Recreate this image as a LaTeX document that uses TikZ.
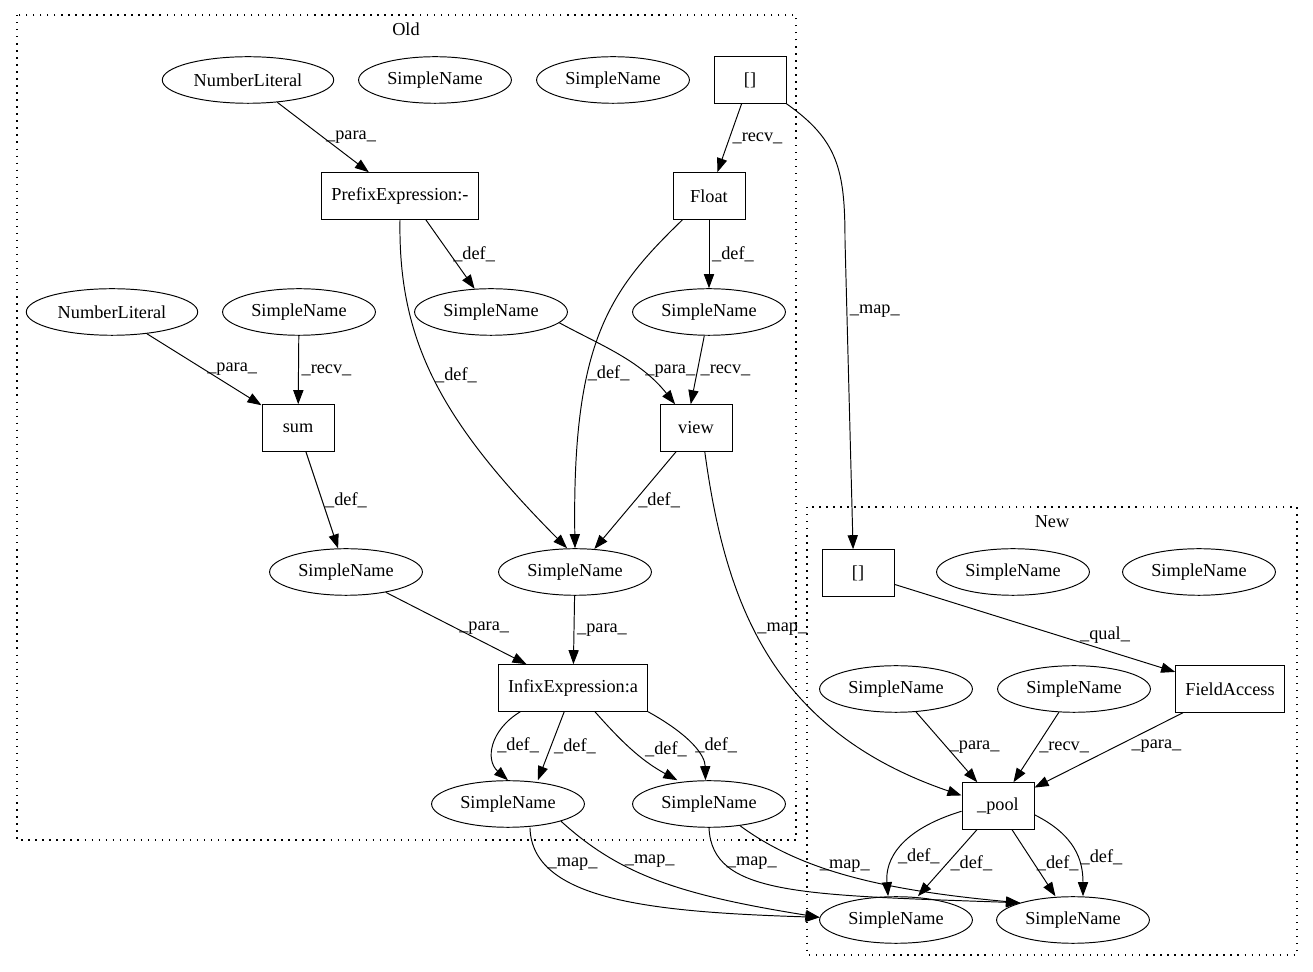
\documentclass[tikz,border=0pt]{standalone}
\usepackage{fontspec}
\setmainfont{Liberation Serif}
\usetikzlibrary{shapes.geometric,arrows.meta}

\begin{document}
\begin{tikzpicture}[x=0.02cm, y=-0.02cm, line width=0.55pt,
    font=\fontsize{10.4}{12}\selectfont,
    sname/.style={ellipse, draw, inner xsep=3.6pt, inner ysep=2pt, minimum height=26.5pt},
    opbox/.style={rectangle, draw, minimum width=41pt, minimum height=26.5pt, inner xsep=5.5pt},
    edge/.style={-{Triangle[length=8pt,width=5.8pt]}},
    elab/.style={inner sep=1.5pt},
    cluster/.style={draw, line width=0.8pt, dash pattern=on 0.8pt off 3.2pt}]
  \useasboundingbox (0,0) rectangle (1313,972);

  % the two clusters
  \draw[cluster] (17,15) rectangle (796,840);
  \node (oldlbl) at (406,29) {Old};
  \draw[cluster] (807,507) rectangle (1297,955);
  \node (newlbl) at (1052,522) {New};

  % old nodes
  \node[sname] (nlA) at (248,80) {NumberLiteral};
  \node[sname] (snA) at (435,80) {SimpleName};
  \node[sname] (snB) at (613,80) {SimpleName};
  \node[opbox] (arrO) at (750,80) {[]};
  \node[opbox] (prefix) at (400,196) {PrefixExpression:-};
  \node[opbox] (float) at (709,196) {Float};
  \node[sname] (nlB) at (112,312) {NumberLiteral};
  \node[sname] (snC) at (299,312) {SimpleName};
  \node[sname] (snD) at (491,312) {SimpleName};
  \node[sname] (snE) at (709,312) {SimpleName};
  \node[opbox] (sum) at (298,428) {sum};
  \node[opbox] (view) at (696,428) {view};
  \node[sname] (snF) at (346,572) {SimpleName};
  \node[sname] (snG) at (575,572) {SimpleName};
  \node[opbox] (infix) at (573,688) {InfixExpression:a};
  \node[sname] (snH) at (508,804) {SimpleName};
  \node[sname] (snI) at (709,804) {SimpleName};

  % new nodes
  \node[opbox] (arrN) at (858,573) {[]};
  \node[sname] (snJ) at (1013,572) {SimpleName};
  \node[sname] (snK) at (1199,572) {SimpleName};
  \node[sname] (snL) at (896,689) {SimpleName};
  \node[sname] (snM) at (1074,689) {SimpleName};
  \node[opbox] (field) at (1230,689) {FieldAccess};
  \node[opbox] (pool) at (998,806) {\_pool};
  \node[sname] (snN) at (896,920) {SimpleName};
  \node[sname] (snO) at (1073,920) {SimpleName};

  % edges in the old graph
  \draw[edge] (nlA) -- node[elab, midway, right] {\_para\_} (prefix);
  \draw[edge] (arrO) -- node[elab, midway, right] {\_recv\_} (float);
  \draw[edge] ([xshift=14.7pt]prefix.south) -- node[elab, midway, right] {\_def\_} (snD);
  \draw[edge] (prefix.south) .. controls (398,340) and (440,420) .. node[elab, pos=0.48, right] {\_def\_} ([xshift=-4.5pt]snG.north);
  \draw[edge] (float) -- node[elab, midway, right] {\_def\_} (snE);
  \draw[edge] ([xshift=5.7pt]float.south west) .. controls (610,290) and (572,340) .. node[elab, pos=0.63, right, xshift=-2pt] {\_def\_} (snG.north);
  \draw[edge] (nlB) -- node[elab, midway, right] {\_para\_} (sum);
  \draw[edge] (snC) -- node[elab, midway, right] {\_recv\_} (sum);
  \draw[edge] (snD.-9) .. controls (600,345) and (640,360) .. node[elab, pos=0.7, right] {\_para\_} ([xshift=-11.9pt]view.north);
  \draw[edge] (snE) -- node[elab, midway, right] {\_recv\_} ([xshift=-3pt]view.north);
  \draw[edge] (sum) -- node[elab, midway, right] {\_def\_} (snF);
  \draw[edge] (view) -- node[elab, midway, right] {\_def\_} (snG);
  \draw[edge] (snF) -- node[elab, midway, right] {\_para\_} (infix);
  \draw[edge] (snG) -- node[elab, midway, right] {\_para\_} (infix);
  \draw[edge] ([xshift=-30pt]infix.south) .. controls (490,730) and (485,760) .. node[elab, pos=0.5, right] {\_def\_} (snH.north);
  \draw[edge] ([xshift=-5pt]infix.south) -- node[elab, midway, right] {\_def\_} ([xshift=17pt]snH.north);
  \draw[edge] ([xshift=12.5pt]infix.south) .. controls (620,740) and (640,760) .. node[elab, pos=0.5, right, xshift=6pt] {\_def\_} ([xshift=-18pt]snI.north);
  \draw[edge] (infix.south east) .. controls (690,735) and (705,755) .. node[elab, pos=0.5, right] {\_def\_} ([xshift=-2pt]snI.north);

  % mappings between the graphs
  \draw[edge] (arrO.south east) .. controls (838,140) and (845,170) .. (845,240) -- node[elab, pos=0.23, right] {\_map\_} ([xshift=-2.8pt]arrN.north);
  \draw[edge] ([xshift=5pt]view.south) .. controls (725,600) and (770,730) .. node[elab, pos=0.43, right] {\_map\_} ([yshift=6pt]pool.west);
  \draw[edge] ([xshift=12.5pt]snH.south) .. controls (532,900) and (650,912) .. node[elab, pos=0.2, right] {\_map\_} (snN.178);
  \draw[edge] (snH.-18) .. controls (620,875) and (680,895) .. node[elab, pos=0.3, right, xshift=3pt] {\_map\_} (snN.178);
  \draw[edge] (snI.south) .. controls (712,895) and (800,895) .. node[elab, pos=0.22, right] {\_map\_} (snO.162);
  \draw[edge] (snI.-35) .. controls (800,870) and (880,890) .. node[elab, pos=0.37, right] {\_map\_} (snO.162);

  % edges in the new graph
  \draw[edge] (arrN) -- node[elab, pos=0.75, above=2pt] {\_qual\_} (field);
  \draw[edge] (snL) -- node[elab, midway, right] {\_para\_} (pool);
  \draw[edge] (snM) -- node[elab, midway, right] {\_recv\_} (pool);
  \draw[edge] (field) -- node[elab, pos=0.45, right, xshift=7pt] {\_para\_} (pool);
  \draw[edge] ([yshift=-3pt]pool.west) .. controls (900,830) and (885,860) .. node[elab, pos=0.6, right] {\_def\_} ([xshift=-4.5pt]snN.north);
  \draw[edge] ([xshift=-12pt]pool.south) -- node[elab, midway, right] {\_def\_} ([xshift=12.5pt]snN.north);
  \draw[edge] ([xshift=8pt]pool.south) -- node[elab, midway, right] {\_def\_} ([xshift=-10pt]snO.north);
  \draw[edge] ([yshift=-5pt]pool.east) .. controls (1075,835) and (1083,860) .. node[elab, pos=0.6, right] {\_def\_} ([xshift=5.7pt]snO.north);
\end{tikzpicture}
\end{document}
